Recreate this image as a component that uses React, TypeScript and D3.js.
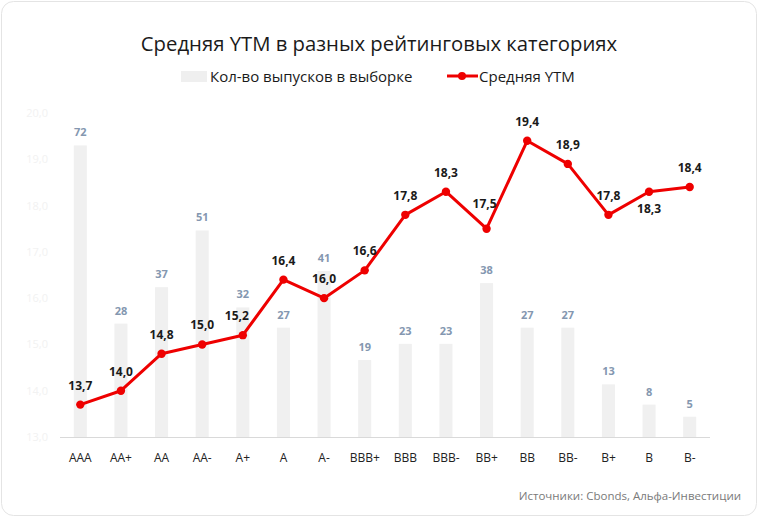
import React from "react";
import * as d3 from "d3";

const categories = ["AAA","AA+","AA","AA-","A+","A","A-","BBB+","BBB","BBB-","BB+","BB","BB-","B+","B","B-"];
const ytm = [13.7,14.0,14.8,15.0,15.2,16.4,16.0,16.6,17.8,18.3,17.5,19.4,18.9,17.8,18.3,18.4];
const counts = [72,28,37,51,32,27,41,19,23,23,38,27,27,13,8,5];
const yTicks = [13,14,15,16,17,18,19,20];

const W = 758, H = 518;
const fmt = (v: number) => v.toFixed(1).replace(".", ",");

// label placement tweaks (pixels) to mirror the reference's auto-placement
const labelShift: Record<string, [number, number]> = {
  "A+": [-6, 0],
  "BB+": [-2, -6],
  "B": [0, 36],
};

export default function App() {
  const x = d3.scaleBand().domain(categories).range([60, 710]).paddingInner(0.68).paddingOuter(0.34);
  const y = d3.scaleLinear().domain([13, 20]).range([437, 113]);
  const y2 = d3.scaleLinear().domain([0, 80]).range([437, 113]);
  const cx = (c: string) => (x(c) as number) + x.bandwidth() / 2;
  const line = d3.line<number>().x((_, i) => cx(categories[i])).y(d => y(d));
  const font = "'Open Sans', 'Noto Sans', sans-serif";
  return (
    <svg width={W} height={H} style={{ position: "absolute", left: 0, top: 0 }} fontFamily={font}>
      <rect x={1.5} y={1.5} width={W - 3} height={H - 4} rx={12} fill="#fff" stroke="#e4e4e4" />
      <text x={379} y={51} textAnchor="middle" fontSize={20.3} fill="#1a1a1a">Средняя YTM в разных рейтинговых категориях</text>
      <rect x={181} y={71} width={26} height={11} fill="#efefef" />
      <text x={210} y={82} fontSize={15} fill="#1a1a1a">Кол-во выпусков в выборке</text>
      <line x1={447} x2={478} y1={76} y2={76} stroke="#ee0000" strokeWidth={3} />
      <circle cx={462} cy={76} r={4} fill="#ee0000" />
      <text x={479} y={82} fontSize={15} fill="#1a1a1a">Средняя YTM</text>
      {yTicks.map(t => (
        <text key={t} x={48} y={y(t) + 4} textAnchor="end" fontSize={11} fill="#f2f2f2">{fmt(t)}</text>
      ))}
      {categories.map((c, i) => (
        <g key={c}>
          <rect x={x(c)} y={y2(counts[i])} width={x.bandwidth()} height={437 - y2(counts[i])} fill="#f0f0f0" />
          <text x={cx(c)} y={y2(counts[i]) - 9} textAnchor="middle" fontSize={11} fontWeight="bold" fill="#8497b0">{counts[i]}</text>
          <text x={cx(c)} y={462} textAnchor="middle" fontSize={12} fill="#222">{c}</text>
        </g>
      ))}
      <line x1={60} x2={710} y1={437.5} y2={437.5} stroke="#d9d9d9" />
      <path d={line(ytm) as string} fill="none" stroke="#ee0000" strokeWidth={3} strokeLinejoin="round" />
      {ytm.map((v, i) => {
        const c = categories[i];
        const [dx, dy] = labelShift[c] || [0, 0];
        return (
          <g key={i}>
            <circle cx={cx(c)} cy={y(v)} r={4.2} fill="#ee0000" />
            <text x={cx(c) + dx} y={y(v) - 15 + dy} textAnchor="middle" fontSize={12} fontWeight="bold" fill="#1a1a1a">{fmt(v)}</text>
          </g>
        );
      })}
      <text x={741} y={500} textAnchor="end" fontSize={11.5} fill="#7a7a7a">Источники: Cbonds, Альфа-Инвестиции</text>
    </svg>
  );
}
